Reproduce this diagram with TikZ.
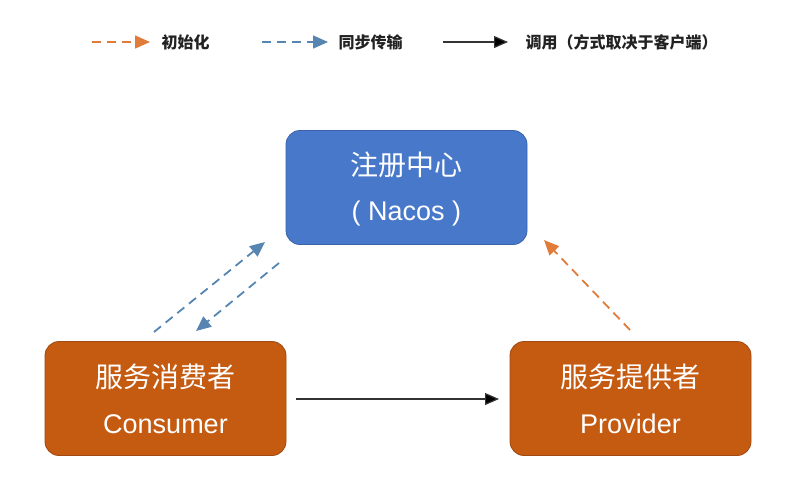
\documentclass[tikz,border=0pt]{standalone}
\usepackage{fontspec}
\setmainfont{Liberation Sans}
\newfontfamily\cjk{Noto Sans CJK SC}
\usetikzlibrary{arrows.meta}
\definecolor{boxblue}{HTML}{4878CA}
\definecolor{boxblueline}{HTML}{3A64A8}
\definecolor{boxorange}{HTML}{C55A11}
\definecolor{boxorangeline}{HTML}{9E4A12}
\definecolor{arrblue}{HTML}{5585B0}
\definecolor{arrorange}{HTML}{E07B39}
\definecolor{legtext}{HTML}{222222}
\tikzset{
  box/.style={draw, line width=0.8pt, rounded corners=14pt, minimum width=241pt, minimum height=114pt},
  bluebox/.style={box, fill=boxblue, draw=boxblueline},
  orangebox/.style={box, fill=boxorange, draw=boxorangeline},
  cn/.style={text=white, font=\cjk\fontsize{28}{32}\selectfont},
  en/.style={text=white, font=\fontsize{27}{30}\selectfont},
  synced/.style={draw=arrblue, line width=1.8pt, dash pattern=on 9pt off 6pt, -{Triangle[length=15pt,width=13pt,fill=arrblue]}},
  initd/.style={draw=arrorange, line width=1.8pt, dash pattern=on 9pt off 6pt, -{Triangle[length=15pt,width=13pt,fill=arrorange]}},
  calld/.style={draw=black!80, line width=1.2pt, -{Triangle[length=14pt,width=12pt,fill=black]}},
  legend/.style={text=legtext, font=\cjk\bfseries\fontsize{16}{18}\selectfont, anchor=west}
}
\begin{document}
\begin{tikzpicture}[x=1pt,y=-1pt]
\useasboundingbox (0,0) rectangle (792,491);
% boxes
\node[bluebox] (reg) at (406.5,187.5) {};
\node[cn] (regcn) at (406.5,165) {注册中心};
\node[en] (regen) at (406.5,214) {( Nacos )};
\node[orangebox] (con) at (165.5,398.5) {};
\node[cn] (concn) at (165.5,377) {服务消费者};
\node[en] (conen) at (165.5,424) {Consumer};
\node[orangebox] (pro) at (630.5,398.5) {};
\node[cn] (procn) at (630.5,377) {服务提供者};
\node[en] (proen) at (630.5,424) {Provider};
% connector end points
\coordinate (up1) at (154,332);
\coordinate (up2) at (265,242);
\coordinate (dn1) at (279,263);
\coordinate (dn2) at (196,331);
\coordinate (or1) at (630,330);
\coordinate (or2) at (544,240);
\coordinate (ca1) at (296,399);
\coordinate (ca2) at (499,399);
\draw[synced] (up1) -- (up2);
\draw[synced] (dn1) -- (dn2);
\draw[initd] (or1) -- (or2);
\draw[calld] (ca1) -- (ca2);
% legend
\coordinate (l1a) at (92,42);
\coordinate (l1b) at (150,42);
\coordinate (l2a) at (262,42);
\coordinate (l2b) at (328,42);
\coordinate (l3a) at (443,42);
\coordinate (l3b) at (508,42);
\draw[initd, line width=1.5pt] (l1a) -- (l1b);
\draw[synced, line width=1.5pt] (l2a) -- (l2b);
\draw[calld] (l3a) -- (l3b);
\node[legend] (t1) at (158,42) {初始化};
\node[legend] (t2) at (335,42) {同步传输};
\node[legend] (t3) at (522,42) {调用（方式取决于客户端）};
\end{tikzpicture}
\end{document}
